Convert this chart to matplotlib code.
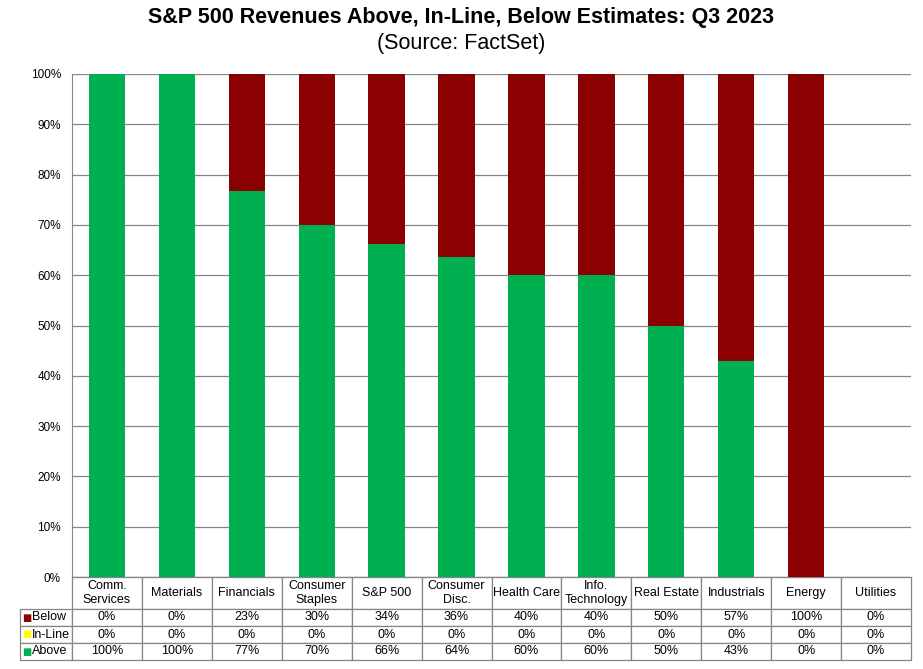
import matplotlib
matplotlib.use('Agg')
import matplotlib.pyplot as plt
from matplotlib.ticker import PercentFormatter

categories = ['Comm.\nServices', 'Materials', 'Financials', 'Consumer\nStaples', 'S&P 500',
              'Consumer\nDisc.', 'Health Care', 'Info.\nTechnology', 'Real Estate',
              'Industrials', 'Energy', 'Utilities']
above = [100, 100, 76.7, 70, 66.3, 63.6, 60, 60, 50, 42.9, 0, 0]
inline = [0, 0, 0, 0, 0, 0, 0, 0, 0, 0, 0, 0]
below = [0, 0, 23.3, 30, 33.7, 36.4, 40, 40, 50, 57.1, 100, 0]
above_lbl = ['100%', '100%', '77%', '70%', '66%', '64%', '60%', '60%', '50%', '43%', '0%', '0%']
inline_lbl = ['0%'] * 12
below_lbl = ['0%', '0%', '23%', '30%', '34%', '36%', '40%', '40%', '50%', '57%', '100%', '0%']
series_names = ['Below', 'In-Line', 'Above']

green = '#00B050'
red = '#8B0000'
yellow = '#FFFF00'
gray = '#868686'

plt.rcParams['font.family'] = ['Liberation Sans', 'DejaVu Sans']

W, H = 923, 669
fig = plt.figure(figsize=(W / 100, H / 100), dpi=100)
x0, x1, ytop, ybot = 72, 911, 74, 577
ax = fig.add_axes([x0 / W, (H - ybot) / H, (x1 - x0) / W, (ybot - ytop) / H])

x = list(range(len(categories)))
ax.bar(x, above, width=0.52, color=green, zorder=3)
bottom2 = [a + b for a, b in zip(above, inline)]
ax.bar(x, inline, width=0.52, bottom=above, color=yellow, zorder=3)
ax.bar(x, below, width=0.52, bottom=bottom2, color=red, zorder=3)

ax.set_xlim(-0.5, len(categories) - 0.5)
ax.set_ylim(0, 100)
ax.set_yticks(range(0, 101, 10))
ax.yaxis.set_major_formatter(PercentFormatter(decimals=0))
ax.tick_params(axis='y', length=0, labelsize=8.5, pad=8)
ax.set_xticks([])
ax.grid(axis='y', color=gray, linewidth=0.9, zorder=0)
for s in ['top', 'right']:
    ax.spines[s].set_visible(False)
ax.spines['left'].set_color(gray)
ax.spines['bottom'].set_color(gray)

# data table below the chart (first column holds the series names)
ax_w = x1 - x0
ax_h = ybot - ytop
lab_w = 52
rows = [[''] + below_lbl, [''] + inline_lbl, [''] + above_lbl]
tbl = ax.table(cellText=rows, colLabels=[''] + categories, cellLoc='center',
               bbox=[-lab_w / ax_w, -83 / ax_h, (ax_w + lab_w) / ax_w, 83 / ax_h])
tbl.auto_set_font_size(False)
tbl.set_fontsize(9)
colw = ax_w / len(categories)
for (r, c), cell in tbl.get_celld().items():
    cell.set_edgecolor(gray)
    cell.set_linewidth(0.9)
    cell.set_height(32 if r == 0 else 17)
    cell.set_width(lab_w if c == 0 else colw)
tbl[(0, 0)].set_visible(False)

row_y = [617.5, 634.5, 651.5]
for name, col, yy in zip(series_names, [red, yellow, green], row_y):
    fig.text(22 / W, 1 - yy / H, '■', color=col, fontsize=7, va='center', ha='left',
             family=['DejaVu Sans'])
    fig.text(32 / W, 1 - yy / H, name, fontsize=9, va='center', ha='left')

fig.text(0.5, 1 - 17 / H, 'S&P 500 Revenues Above, In-Line, Below Estimates: Q3 2023',
         ha='center', va='center', fontsize=15.5, fontweight='bold')
fig.text(0.5, 1 - 44 / H, '(Source: FactSet)', ha='center', va='center', fontsize=15.5)

fig.savefig('out.png', dpi=100)
